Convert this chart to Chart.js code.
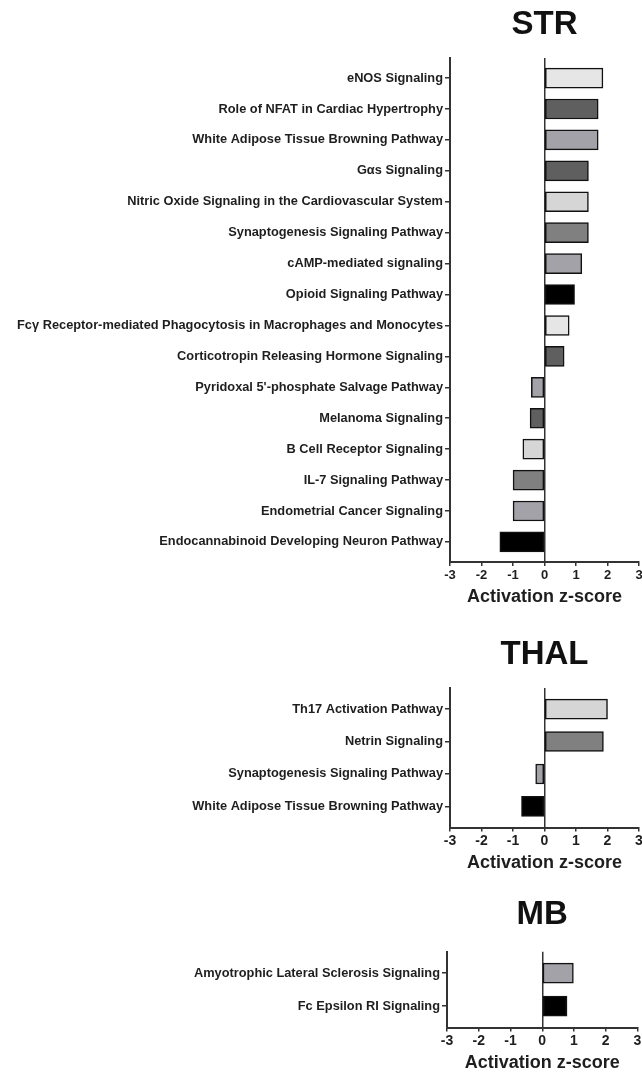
<!DOCTYPE html>
<html><head><meta charset="utf-8">
<script src="https://cdn.jsdelivr.net/npm/chart.js@4/dist/chart.umd.min.js"></script>
<style>
html,body{margin:0;padding:0;background:#fff;overflow:hidden;width:642px;height:1074px;position:relative}
canvas{position:absolute;left:0}
</style></head><body>
<canvas id="str" width="644" height="608" style="top:0px"></canvas>
<canvas id="thal" width="644" height="243" style="top:631px"></canvas>
<canvas id="mb" width="643" height="184" style="top:891px"></canvas>
<script>
// ---- data ----
const STR_LABELS = [
  "eNOS Signaling",
  "Role of NFAT in Cardiac Hypertrophy",
  "White Adipose Tissue Browning Pathway",
  "Gαs Signaling",
  "Nitric Oxide Signaling in the Cardiovascular System",
  "Synaptogenesis Signaling Pathway",
  "cAMP-mediated signaling",
  "Opioid Signaling Pathway",
  "Fcγ Receptor-mediated Phagocytosis in Macrophages and Monocytes",
  "Corticotropin Releasing Hormone Signaling",
  "Pyridoxal 5'-phosphate Salvage Pathway",
  "Melanoma Signaling",
  "B Cell Receptor Signaling",
  "IL-7 Signaling Pathway",
  "Endometrial Cancer Signaling",
  "Endocannabinoid Developing Neuron Pathway"
];
const STR_VALUES = [1.85, 1.70, 1.70, 1.39, 1.39, 1.39, 1.18, 0.95, 0.78, 0.62, -0.42, -0.46, -0.69, -1.0, -1.0, -1.42];

const THAL_LABELS = [
  "Th17 Activation Pathway",
  "Netrin Signaling",
  "Synaptogenesis Signaling Pathway",
  "White Adipose Tissue Browning Pathway"
];
const THAL_VALUES = [2.0, 1.87, -0.28, -0.73];

const MB_LABELS = [
  "Amyotrophic Lateral Sclerosis Signaling",
  "Fc Epsilon RI Signaling"
];
const MB_VALUES = [0.98, 0.78];

const X_TICKS = [-3, -2, -1, 0, 1, 2, 3];
const X_TITLE = "Activation z-score";

// ---- styles ----
const LIGHT = '#e6e6e6', PALE = '#d6d6d6', MID = '#a2a2a8', GRAY = '#808080', DARK = '#5f5f5f', BLACK = '#000000';
const STR_COLORS = [LIGHT, DARK, MID, DARK, PALE, GRAY, MID, BLACK, LIGHT, DARK, MID, DARK, PALE, GRAY, MID, BLACK];
const THAL_COLORS = [PALE, GRAY, MID, BLACK];
const MB_COLORS = [MID, BLACK];

const AXIS = '#333333';
const TEXT = '#1e1e1e';
Chart.defaults.font.family = "'Liberation Sans', Arial, sans-serif";

function makeChart(id, p) {
  const n = p.labels.length;
  new Chart(document.getElementById(id), {
    type: 'bar',
    data: {
      datasets: [{
        data: p.values.map((v, i) => ({ x: v, y: i })),
        backgroundColor: p.colors,
        borderColor: '#111',
        borderWidth: 1.5,
        borderSkipped: false,
        barThickness: 20
      }]
    },
    options: {
      indexAxis: 'y',
      responsive: false,
      animation: false,
      devicePixelRatio: 1,
      layout: { padding: 0 },
      plugins: {
        legend: { display: false },
        tooltip: { enabled: false },
        title: {
          display: true, text: p.title, fullSize: false, color: '#111',
          font: { size: 33, weight: 'bold' },
          padding: p.titlePad
        }
      },
      scales: {
        y: {
          type: 'linear', reverse: true, bounds: 'data', offset: false,
          min: -0.65, max: n - 0.35,
          afterBuildTicks: (s) => { s.ticks = p.labels.map((_, i) => ({ value: i })); },
          afterFit: (s) => { s.width = p.yWidth; },
          border: { display: true, color: AXIS, width: 2 },
          grid: { offset: false, drawOnChartArea: false, drawTicks: true, tickLength: 5, tickColor: AXIS, lineWidth: 1.5 },
          ticks: {
            autoSkip: false, padding: 2, color: TEXT,
            font: { size: 12.8, weight: 'bold' },
            callback: (v) => p.labels[v] !== undefined ? p.labels[v] : ''
          }
        },
        x: {
          type: 'linear', min: -3, max: 3, offset: false,
          afterBuildTicks: (s) => { s.ticks = X_TICKS.map(v => ({ value: v })); },
          border: { display: true, color: AXIS, width: 2 },
          grid: {
            offset: false, drawOnChartArea: true, drawTicks: true, tickLength: 4,
            color: (c) => (c.tick && c.tick.value === 0) ? AXIS : 'rgba(0,0,0,0)',
            tickColor: AXIS, lineWidth: 1.5
          },
          ticks: {
            autoSkip: false, padding: p.xTickPad, color: TEXT, maxRotation: 0,
            font: { family: "'Liberation Sans Narrow', 'Liberation Sans', Arial", size: p.xTickSize, weight: 'bold', lineHeight: 1.2 }
          },
          title: {
            display: true, text: X_TITLE, color: TEXT,
            font: { size: 18, weight: 'bold', lineHeight: 1.0 },
            padding: p.xTitlePad
          }
        }
      }
    }
  });
}

makeChart('str', {
  labels: STR_LABELS, values: STR_VALUES, colors: STR_COLORS, title: 'STR',
  yWidth: 450, titlePad: { top: 5, bottom: 13.4 },
  xTickPad: 1.2, xTickSize: 13, xTitlePad: { top: 4, bottom: 2 }
});
makeChart('thal', {
  labels: THAL_LABELS, values: THAL_VALUES, colors: THAL_COLORS, title: 'THAL',
  yWidth: 450, titlePad: { top: 4.2, bottom: 13.2 },
  xTickPad: 1.1, xTickSize: 14, xTitlePad: { top: 3.5, bottom: 2 }
});
makeChart('mb', {
  labels: MB_LABELS, values: MB_VALUES, colors: MB_COLORS, title: 'MB',
  yWidth: 447, titlePad: { top: 4.2, bottom: 16.9 },
  xTickPad: 1.6, xTickSize: 14, xTitlePad: { top: 3, bottom: 2.5 }
});
</script>
</body></html>
